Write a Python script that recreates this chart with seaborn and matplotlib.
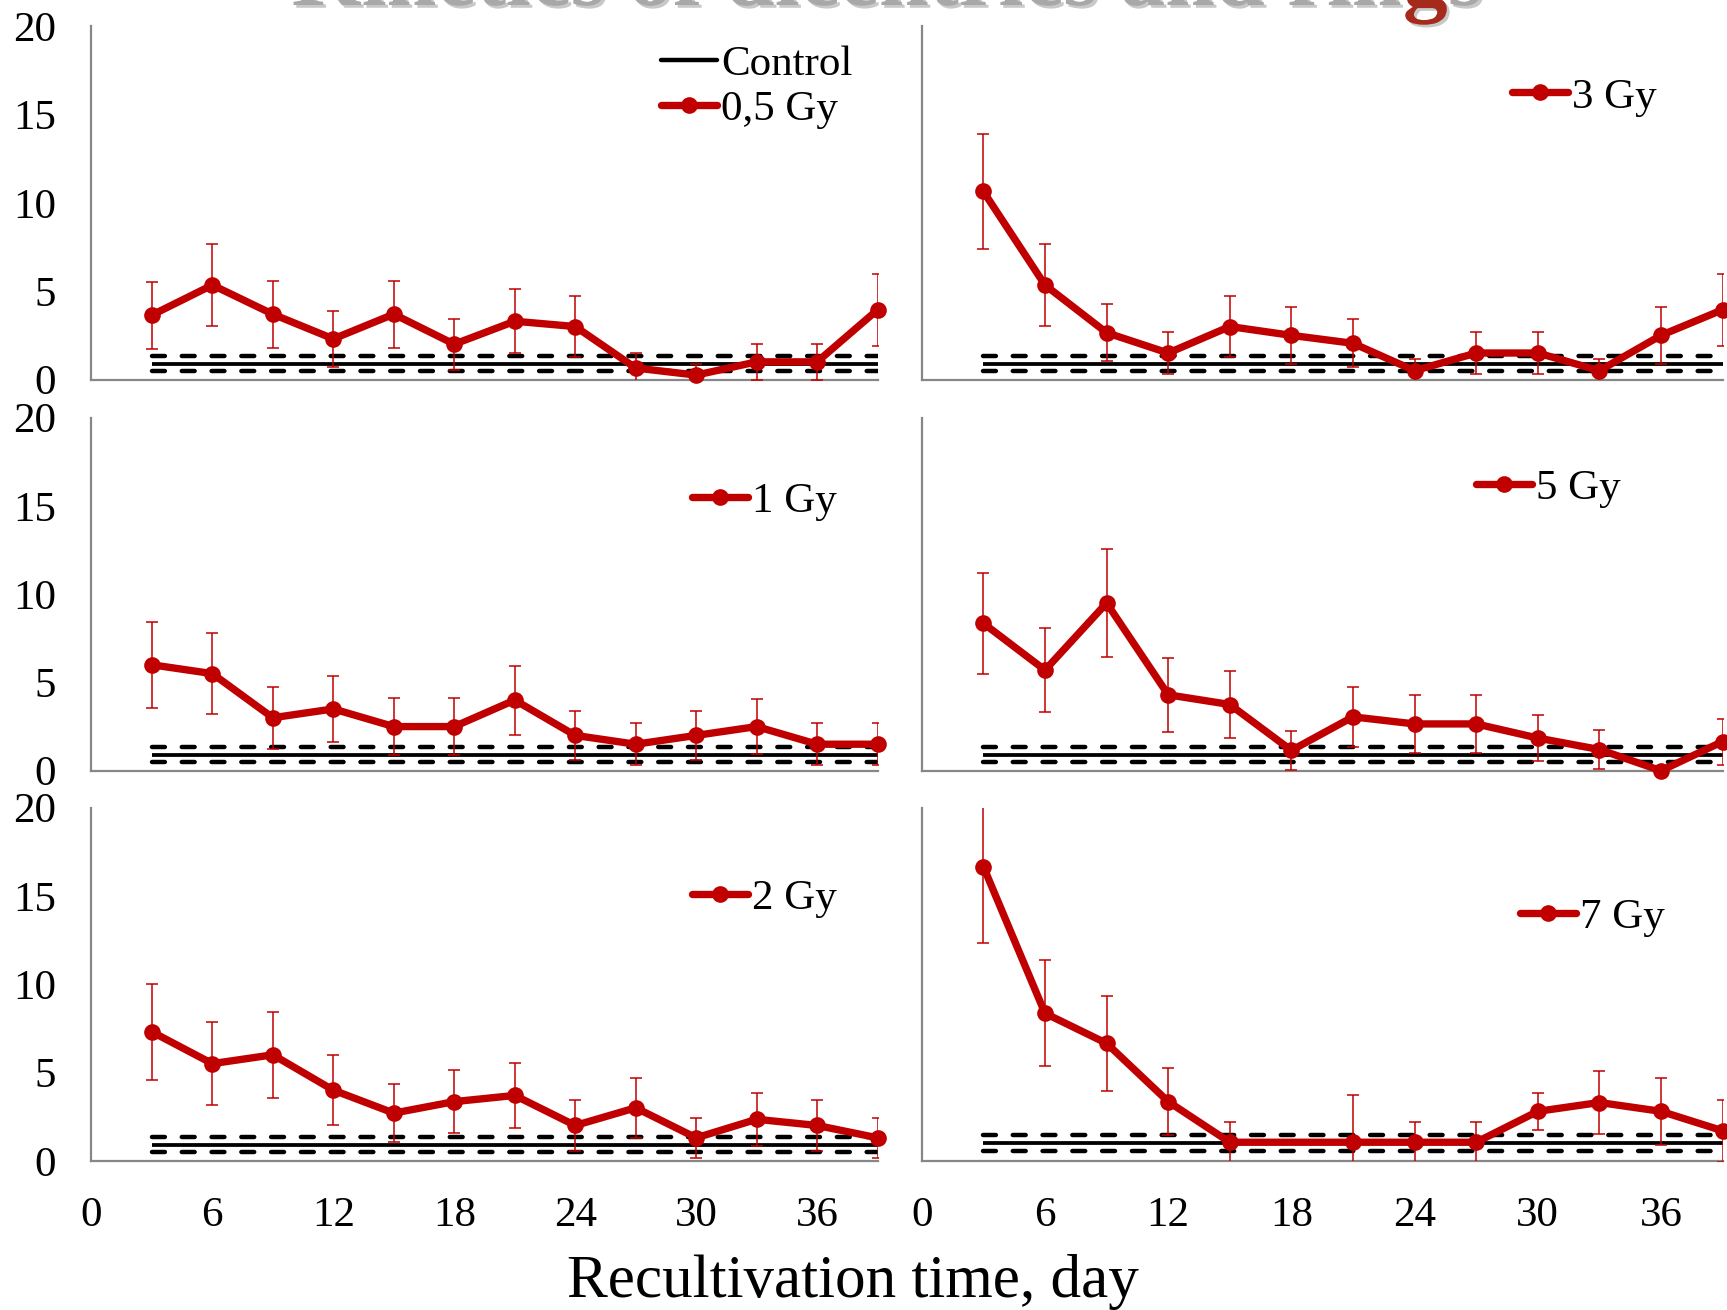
import numpy as np
import pandas as pd
import matplotlib
matplotlib.use("Agg")
import matplotlib.pyplot as plt
import matplotlib.patheffects as pe
from matplotlib.lines import Line2D
import seaborn as sns

nan = np.nan

# ---------------- data ----------------
days = [3, 6, 9, 12, 15, 18, 21, 24, 27, 30, 33, 36, 39]

labels = ["0,5 Gy", "3 Gy", "1 Gy", "5 Gy", "2 Gy", "7 Gy"]

mean_05 = [3.65, 5.35, 3.7, 2.3, 3.7, 2.0, 3.3, 3.0, 0.65, 0.25, 1.0, 1.0, 3.95]
err_05 = [1.9, 2.3, 1.9, 1.6, 1.9, 1.45, 1.8, 1.75, 0.85, 0.65, 1.0, 1.0, 2.05]

mean_3 = [10.65, 5.35, 2.65, 1.5, 3.0, 2.5, 2.05, 0.5, 1.5, 1.5, 0.5, 2.5, 3.95]
err_3 = [3.25, 2.3, 1.6, 1.2, 1.75, 1.6, 1.35, 0.65, 1.2, 1.2, 0.65, 1.6, 2.05]

mean_1 = [6.0, 5.5, 3.0, 3.5, 2.5, 2.5, 4.0, 2.0, 1.5, 2.0, 2.5, 1.5, 1.5]
err_1 = [2.45, 2.3, 1.75, 1.85, 1.6, 1.6, 1.95, 1.4, 1.2, 1.4, 1.55, 1.2, 1.2]

mean_5 = [8.35, 5.7, 9.5, 4.3, 3.75, 1.15, 3.05, 2.65, 2.65, 1.85, 1.2, 0.0, 1.65]
err_5 = [2.85, 2.4, 3.05, 2.1, 1.9, 1.1, 1.7, 1.65, 1.65, 1.3, 1.1, 0.0, 1.3]

mean_2 = [7.3, 5.5, 6.0, 4.0, 2.7, 3.35, 3.7, 2.0, 3.0, 1.3, 2.35, 2.0, 1.3]
err_2 = [2.7, 2.35, 2.45, 2.0, 1.65, 1.8, 1.85, 1.45, 1.7, 1.15, 1.5, 1.45, 1.15]

mean_7 = [16.65, 8.35, 6.65, 3.35, 1.05, nan, 1.05, 1.05, 1.05, 2.8, 3.3, 2.8, 1.7]
err_7 = [4.3, 3.0, 2.7, 1.9, 1.15, nan, 2.65, 1.15, 1.15, 1.05, 1.8, 1.9, 1.75]

control_mean = [0.9, 0.9, 0.9, 0.9, 0.9, 1.0]
control_band = [0.41, 0.41, 0.42, 0.42, 0.42, 0.47]

y_ticks_std = [0, 5, 10, 15, 20]
y_ticks_7 = list(np.linspace(0, 20, 7))
x_ticks_minor = list(range(0, 40, 3))
x_ticks_major = [0, 6, 12, 18, 24, 30, 36]

title_parts = ["Kinetics of dicentrics and rin", "g", "s"]

# ---------------- style ----------------
sns.set_theme(style="white")
plt.rcParams["font.family"] = ["Liberation Serif", "DejaVu Serif"]
plt.rcParams["text.color"] = "black"

RED = "#C00000"
GRAY = "#878787"
LW_RED = 5.3
MS = 12.0
LW_CTRL = 3.2

W, H = 1727, 1310
fig = plt.figure(figsize=(W / 100, H / 100), dpi=100)


def add_ax(l, t, r, b):
    return fig.add_axes([l / W, 1 - b / H, (r - l) / W, (b - t) / H])


cols = [(91.4, 877.6), (921.8, 1722.6)]
rows = [(26.4, 379.5), (417.7, 770.7), (807.5, 1160.8)]

means = [mean_05, mean_3, mean_1, mean_5, mean_2, mean_7]
errs = [err_05, err_3, err_1, err_5, err_2, err_7]

# legend anchor (handle left x, centre y) in pixels
leg_pos = [(660.8, 87.0), (1512.0, 97.0), (691.7, 501.0),
           (1475.9, 488.0), (691.7, 898.6), (1520.0, 917.4)]

FS = 31

for i in range(6):
    r, c = divmod(i, 2)
    ax = add_ax(cols[c][0], rows[r][0], cols[c][1], rows[r][1])
    df = pd.DataFrame({"day": days, "value": means[i], "err": errs[i]})

    # control band
    cm, cb = control_mean[i], control_band[i]
    x0, x1 = min(days), max(days)
    ax.hlines(cm, x0, x1, color="black", linewidth=LW_CTRL * 0.85, zorder=2)
    dl = ax.hlines([cm + cb, cm - cb], x0, x1, color="black",
                   linewidth=LW_CTRL, linestyles=[(0, (2.9, 3.8))], zorder=2)
    dl.set_capstyle("round")

    # error bars
    ax.errorbar(df["day"], df["value"], yerr=df["err"], fmt="none",
                ecolor=RED, elinewidth=1.1, capsize=4.3, capthick=1.1,
                zorder=3)

    # series line
    sns.lineplot(data=df, x="day", y="value", ax=ax, color=RED,
                 linewidth=LW_RED, marker="o", markersize=MS,
                 markeredgewidth=0, zorder=4, legend=False)
    ax.lines[-1].set_clip_on(False)

    ax.set_xlim(0, 39)
    ax.set_ylim(0, 20)
    ax.set_xlabel("")
    ax.set_ylabel("")

    for s in ["top", "right"]:
        ax.spines[s].set_visible(False)
    for s in ["left", "bottom"]:
        ax.spines[s].set_color(GRAY)
        ax.spines[s].set_linewidth(1.6)

    ax.set_yticks(y_ticks_7 if i == 5 else y_ticks_std)
    if r < 2:
        ax.set_xticks(x_ticks_minor)
        ax.set_xticklabels([])
    else:
        ax.set_xticks(x_ticks_major)
        ax.set_xticklabels([str(v) for v in x_ticks_major])
    if c == 0:
        ax.set_yticklabels([str(v) for v in y_ticks_std])
    else:
        ax.set_yticklabels([])
    ax.tick_params(axis="both", direction="out", length=8.5, width=1.3,
                   color=GRAY, labelsize=FS, pad=17, labelcolor="black")

    # legend
    handles, texts = [], []
    if i == 0:
        handles.append(Line2D([], [], color="black", linewidth=LW_CTRL))
        texts.append("Control")
    handles.append(Line2D([], [], color=RED, linewidth=LW_RED, marker="o",
                          markersize=MS, markeredgewidth=0))
    texts.append(labels[i])
    lx, ly = leg_pos[i]
    ax.legend(handles, texts, loc="center left",
              bbox_to_anchor=(lx / W, 1 - ly / H),
              bbox_transform=fig.transFigure, frameon=False, fontsize=FS,
              borderpad=0, borderaxespad=0, handlelength=1.3,
              handletextpad=0.1, labelspacing=0.12, numpoints=1)

# x-axis label
fig.text(852.5 / W, 1 - 1296.5 / H, "Recultivation time, day", fontsize=44,
         ha="center", va="baseline", color="black")

# cropped slide title at top (as in the reference, only its lower edge shows)
fig.canvas.draw()
rend = fig.canvas.get_renderer()
probe = fig.text(0, 0.5, "".join(title_parts), fontsize=50, fontweight="bold")
tw = probe.get_window_extent(rend).width
probe.remove()
tsize = 50 * 1190 / tw
colors = ["#a8a8a8", "#a52a1c", "#a8a8a8"]
xpos = 292.0
for part, col in zip(title_parts, colors):
    t = fig.text(xpos / W, 1 - 5 / H, part, fontsize=tsize,
                 fontweight="bold", color=col, ha="left", va="baseline",
                 path_effects=[pe.withSimplePatchShadow(offset=(2, -2),
                                                        shadow_rgbFace="#777777",
                                                        alpha=0.4)])
    xpos += t.get_window_extent(rend).width

fig.savefig("out.png", dpi=100)
